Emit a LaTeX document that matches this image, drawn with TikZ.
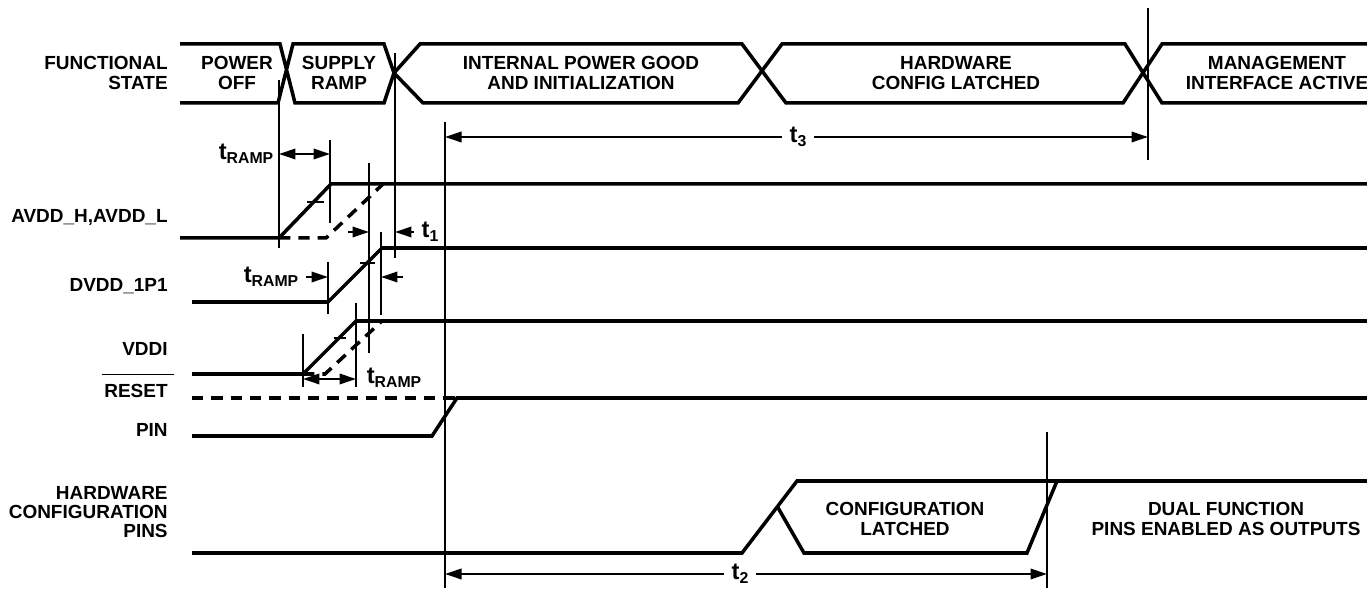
\documentclass[tikz,border=0pt]{standalone}
\usepackage{fontspec}
\setmainfont{Liberation Sans}
\usetikzlibrary{arrows.meta}
\newcommand{\tlab}[1]{{\fontsize{13.5}{13.5}\selectfont t}\raisebox{-2.3pt}{\fontsize{9}{9}\selectfont #1}}

\begin{document}
\begin{tikzpicture}[x=0.02cm, y=-0.02cm,
    sig/.style={line width=2pt},
    sigdash/.style={line width=2pt, dash pattern=on 6.5pt off 4.5pt},
    guide/.style={line width=0.6pt},
    dimline/.style={line width=1.1pt, -{Triangle[length=3.3mm, width=2.1mm]}},
    dimboth/.style={line width=1.1pt, {Triangle[length=3.3mm, width=2.1mm]}-{Triangle[length=3.3mm, width=2.1mm]}},
    lbl/.style={font=\bfseries\fontsize{10.8}{11}\selectfont, align=right, anchor=east, inner sep=0pt},
    txt/.style={font=\bfseries\fontsize{10.8}{11}\selectfont, align=center, inner sep=0pt},
    tl/.style={font=\bfseries, inner sep=1.5mm}]
    \useasboundingbox (0,0) rectangle (1367,590);

    % signal names
    \node[lbl] (fs) at (168,73) {FUNCTIONAL\\STATE};
    \node[lbl] (avdd) at (168,217) {AVDD\_H,AVDD\_L};
    \node[lbl] (dvdd) at (168,286) {DVDD\_1P1};
    \node[lbl] (vddi) at (168,349) {VDDI};
    \node[lbl] (reset) at (168,391) {RESET};
    \draw[guide] ([xshift=-0.5mm, yshift=1.8mm]reset.north west) -- ([xshift=1.2mm, yshift=1.8mm]reset.north east);
    \node[lbl] (pin) at (168,430) {PIN};
    \node[lbl] (hwpins) at (168,512) {HARDWARE\\CONFIGURATION\\PINS};

    % functional state bus
    \draw[sig] (180,44) -- (280,44) -- (295,103) -- (384,103) -- (394,73) -- (384,44) -- (293,44) -- (278,103) -- (180,103);
    \draw[sig] (394,73) -- (420,44) -- (742,44) -- (786,103) -- (1123,103) -- (1162,44) -- (1367,44);
    \draw[sig] (394,73) -- (423,103) -- (738,103) -- (782,44) -- (1125,44) -- (1162,103) -- (1367,103);
    \node[txt] (off) at (237,73) {POWER\\OFF};
    \node[txt] (ramp) at (339,73) {SUPPLY\\RAMP};
    \node[txt] (init) at (581,73) {INTERNAL POWER GOOD\\AND INITIALIZATION};
    \node[txt] (hwl) at (956,73) {HARDWARE\\CONFIG LATCHED};
    \node[txt] (mgmt) at (1277,73) {MANAGEMENT\\INTERFACE ACTIVE};

    % supplies
    \draw[sig] (180,238) -- (279,238) -- (331,184) -- (1367,184);
    \draw[sigdash] (279,238) -- (326,238) -- (383,184);
    \draw[guide] (307,202) -- (324,202);
    \draw[sig] (192,302) -- (328,302) -- (382,248) -- (1367,248);
    \draw[guide] (360,263) -- (375,263);
    \draw[sig] (192,374) -- (303,374) -- (356,321) -- (1367,321);
    \draw[sigdash] (303,374) -- (325,374) -- (382,321);
    \draw[guide] (334,338) -- (346,338);

    % reset pin
    \draw[sigdash] (192,398) -- (457,398);
    \draw[sig] (192,436) -- (432,436) -- (457,398) -- (1367,398);

    % hardware configuration pins
    \draw[sig] (192,553) -- (742,553) -- (797,481) -- (1367,481);
    \draw[sig] (777,506) -- (804,553) -- (1027,553) -- (1057,481);
    \node[txt] (latched) at (905,519) {CONFIGURATION\\LATCHED};
    \node[txt] (dual) at (1226,519) {DUAL FUNCTION\\PINS ENABLED AS OUTPUTS};

    % timing guides
    \draw[guide] (279,80) -- (279,248);
    \draw[guide] (330,140) -- (330,223);
    \draw[guide] (369,163) -- (369,353);
    \draw[guide] (395,53) -- (395,258);
    \draw[guide] (328,262) -- (328,314);
    \draw[guide] (381,232) -- (381,315);
    \draw[guide] (303,334) -- (303,387);
    \draw[guide] (356,303) -- (356,387);
    \draw[guide] (445,122) -- (445,588);
    \draw[guide] (1148,8) -- (1148,160);
    \draw[guide] (1047,432) -- (1047,588);

    % ramp times
    \coordinate (ra1) at (279,154);
    \coordinate (ra2) at (330,154);
    \node[tl] (tra) at (246,154) {\tlab{RAMP}};
    \draw[dimboth] (ra1) -- (ra2);

    \coordinate (rd) at (328,277);
    \node[tl] (trd) at (271,277) {\tlab{RAMP}};
    \draw[dimline] (trd.east) -- (rd);
    \coordinate (rdb) at (403,277);
    \coordinate (rde) at (381,277);
    \draw[dimline] (rdb) -- (rde);

    \coordinate (rv1) at (303,379);
    \coordinate (rv2) at (356,379);
    \node[tl] (trv) at (394,378) {\tlab{RAMP}};
    \draw[dimboth] (rv1) -- (rv2);

    % t1
    \coordinate (pa) at (348,232);
    \coordinate (pb) at (369,232);
    \draw[dimline] (pa) -- (pb);
    \coordinate (pc) at (395,232);
    \node[tl] (t1) at (430,232) {\tlab{1}};
    \draw[dimline] (t1.west) -- (pc);

    % t3
    \node[tl] (t3) at (798,137) {\tlab{3}};
    \coordinate (t3a) at (445,137);
    \coordinate (t3b) at (1148,137);
    \draw[dimline] (t3.west) -- (t3a);
    \draw[dimline] (t3.east) -- (t3b);

    % t2
    \node[tl] (t2) at (740,574) {\tlab{2}};
    \coordinate (t2a) at (445,574);
    \coordinate (t2b) at (1047,574);
    \draw[dimline] (t2.west) -- (t2a);
    \draw[dimline] (t2.east) -- (t2b);
\end{tikzpicture}
\end{document}
